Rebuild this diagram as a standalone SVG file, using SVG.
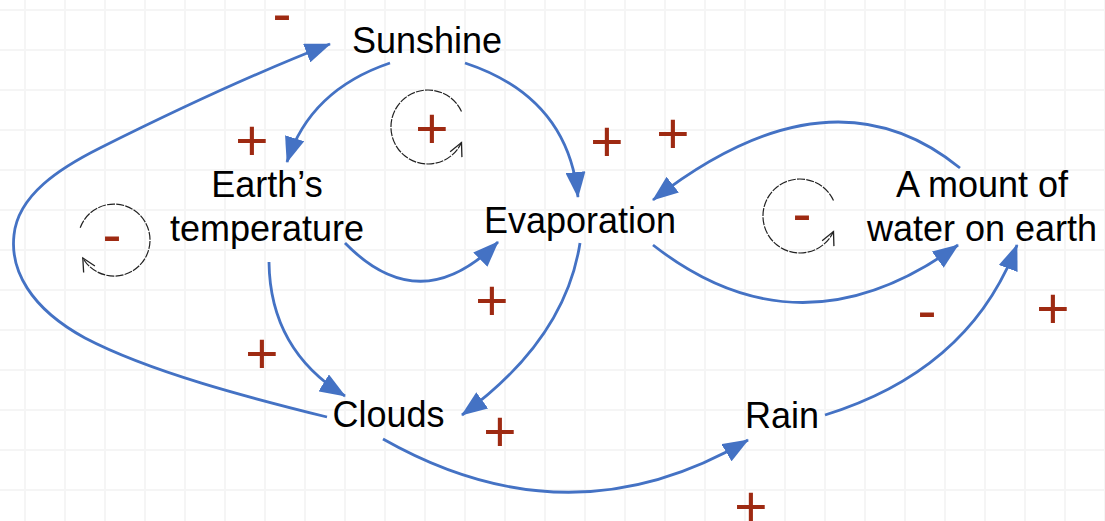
<svg xmlns="http://www.w3.org/2000/svg" width="1105" height="521" viewBox="0 0 1105 521">
<style>
.node{font-family:"Liberation Sans",Arial,sans-serif;font-size:36px;fill:#000;text-anchor:middle}
.sign{font-family:"Liberation Sans",Arial,sans-serif;font-size:57px;fill:#9e2a12;text-anchor:middle}
.link{fill:none;stroke:#4472c4;stroke-width:2.8;marker-end:url(#arr)}
.loop{fill:none;stroke:#222;stroke-width:1.2;stroke-dasharray:8 1.2;marker-end:url(#open)}
</style>
<defs>
<pattern id="grid" patternUnits="userSpaceOnUse" x="5" y="-10" width="40" height="40">
<path d="M20,0 V40 M0,20 H40" stroke="#f5f5f5" stroke-width="2" fill="none"/>
</pattern>
<marker id="arr" viewBox="0 0 26 20" refX="25" refY="10" markerWidth="26" markerHeight="20" markerUnits="userSpaceOnUse" orient="auto">
<path d="M0,0 L26,10 L0,20 z" fill="#4472c4"/>
</marker>
<marker id="open" viewBox="0 0 10 10" refX="10" refY="5" markerWidth="13" markerHeight="13" markerUnits="userSpaceOnUse" orient="auto" overflow="visible">
<path d="M0,0 L10,5 L0,10" fill="none" stroke="#222" stroke-width="1"/>
</marker>
</defs>
<rect width="1105" height="521" fill="#fff"/>
<rect width="1105" height="521" fill="url(#grid)"/>

<g id="connectors">
<path class="link" d="M390,63 Q310,90 287,162"/>
<path class="link" d="M465,63 Q568,97 578,197"/>
<path class="link" d="M345,243 Q420,320 498,242"/>
<path class="link" d="M269,262 Q270,350 345,396"/>
<path class="link" d="M580,243 Q565,340 462,415"/>
<path class="link" d="M327,417 C250,398 150,372 85,338 C30,308 10,270 14,235 C18,195 60,168 100,148 C160,118 250,75 330,44"/>
<path class="link" d="M383,439 Q570,545 748,440"/>
<path class="link" d="M825,415 Q970,370 1017,245"/>
<path class="link" d="M653,245 Q800,360 958,245"/>
<path class="link" d="M960,168 Q830,62 653,200"/>
</g>

<g id="loops">
<path class="loop" d="M461.5,111.4 A37,37 0 1 0 461.5,142.6"/>
<path class="loop" d="M80.2,227.7 A36,36 0 1 1 82.8,258"/>
<path class="loop" d="M833.5,200.4 A37,37 0 1 0 833.5,231.6"/>
</g>

<g id="sunshine">
<text class="node" x="427" y="53">Sunshine</text>
</g>
<g id="earths-temperature">
<text class="node" x="267" y="197">Earth’s</text>
<text class="node" x="267" y="241">temperature</text>
</g>
<g id="evaporation">
<text class="node" x="580" y="233">Evaporation</text>
</g>
<g id="water-on-earth">
<text class="node" x="982" y="197">A mount of</text>
<text class="node" x="982" y="241">water on earth</text>
</g>
<g id="clouds">
<text class="node" x="388.5" y="427">Clouds</text>
</g>
<g id="rain">
<text class="node" x="782" y="428">Rain</text>
</g>

<g id="polarities">
<text class="sign" x="282" y="32.5">-</text>
<text class="sign" x="252" y="160">+</text>
<text class="sign" x="432" y="147.5">+</text>
<text class="sign" x="607" y="160.5">+</text>
<text class="sign" x="673" y="152.5">+</text>
<text class="sign" x="112" y="254">-</text>
<text class="sign" x="802" y="233">-</text>
<text class="sign" x="492" y="319.5">+</text>
<text class="sign" x="262" y="372.5">+</text>
<text class="sign" x="500" y="450.5">+</text>
<text class="sign" x="927" y="330">-</text>
<text class="sign" x="1053" y="327.5">+</text>
<text class="sign" x="751" y="526">+</text>
</g>
</svg>
